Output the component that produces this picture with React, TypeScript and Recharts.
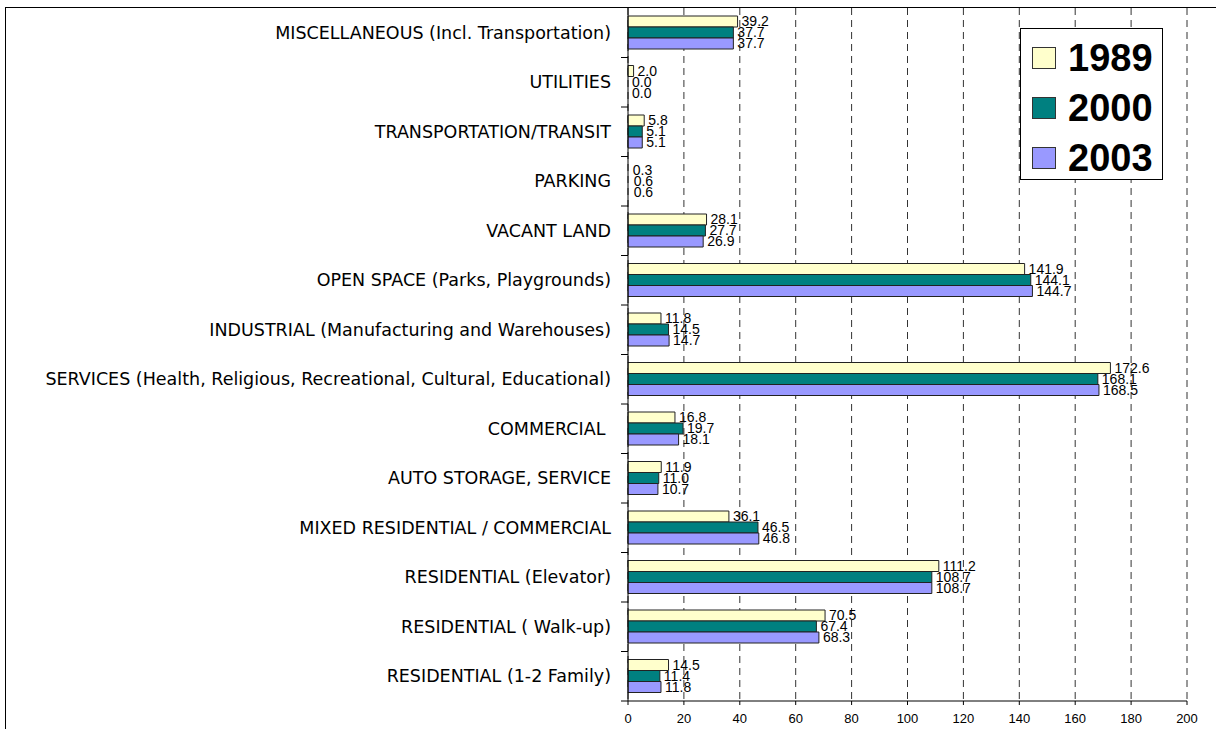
import React from "react";
import { BarChart, Bar, XAxis, YAxis, CartesianGrid, LabelList, Legend, Rectangle } from "recharts";

const categories = [
	"MISCELLANEOUS (Incl. Transportation)",
	"UTILITIES",
	"TRANSPORTATION/TRANSIT",
	"PARKING",
	"VACANT LAND",
	"OPEN SPACE (Parks, Playgrounds)",
	"INDUSTRIAL (Manufacturing and Warehouses)",
	"SERVICES (Health, Religious, Recreational, Cultural, Educational)",
	"COMMERCIAL ",
	"AUTO STORAGE, SERVICE",
	"MIXED RESIDENTIAL / COMMERCIAL",
	"RESIDENTIAL (Elevator)",
	"RESIDENTIAL ( Walk-up)",
	"RESIDENTIAL (1-2 Family)",
];

const values1989 = [39.2, 2.0, 5.8, 0.3, 28.1, 141.9, 11.8, 172.6, 16.8, 11.9, 36.1, 111.2, 70.5, 14.5];
const values2000 = [37.7, 0.0, 5.1, 0.6, 27.7, 144.1, 14.5, 168.1, 19.7, 11.0, 46.5, 108.7, 67.4, 11.4];
const values2003 = [37.7, 0.0, 5.1, 0.6, 26.9, 144.7, 14.7, 168.5, 18.1, 10.7, 46.8, 108.7, 68.3, 11.8];

const xTicks = [0, 20, 40, 60, 80, 100, 120, 140, 160, 180, 200];

const data = categories.map((name, i) => ({
	name,
	"1989": values1989[i],
	"2000": values2000[i],
	"2003": values2003[i],
}));

const W = 1216;
const H = 729;
const margin = { top: 8, right: 29, left: 0, bottom: 0 };
const xAxisHeight = 28;
const band = (H - margin.top - margin.bottom - xAxisHeight) / categories.length;

const CategoryTick = (props: any) => {
	const { x, y, payload } = props;
	const axisX = x + 17;
	return (
		<g>
			<line x1={axisX - 7} x2={axisX} y1={y + band / 2} y2={y + band / 2} stroke="#000" />
			<text
				x={x}
				y={y}
				dy={6}
				textAnchor="end"
				fontFamily="DejaVu Sans"
				fontSize={17.5}
				fill="#000"
				style={{ whiteSpace: "pre" }}
			>
				{payload.value}
			</text>
		</g>
	);
};

// very thin bars are not visible in the original
const BarShape = (props: any) => {
	if (!props.width || props.width < 2) return null;
	return <Rectangle {...props} />;
};

const LegendBox = (props: any) => {
	const items = props.payload || [];
	return (
		<div
			style={{
				width: 143,
				height: 152,
				boxSizing: "border-box",
				border: "1px solid #000",
				background: "#fff",
				paddingTop: 4,
			}}
		>
			{items.map((it: any) => (
				<div key={it.value} style={{ display: "flex", alignItems: "center", height: 50 }}>
					<div
						style={{
							width: 24,
							height: 22,
							marginLeft: 11,
							marginRight: 12,
							boxSizing: "border-box",
							border: "1px solid #333",
							background: it.color,
						}}
					/>
					<span
						style={{
							fontFamily: "Liberation Sans",
							fontWeight: "bold",
							fontSize: 38,
							color: "#000",
							lineHeight: 1,
						}}
					>
						{it.value}
					</span>
				</div>
			))}
		</div>
	);
};

const labelStyle = { fontFamily: "Liberation Sans", fontSize: 14, fill: "#000" };
const fmt = (v: any) => Number(v).toFixed(1);
const minSize = (v: any) => (Number(v) === 0 ? 0.01 : 0);

export default function App() {
	return (
		<div style={{ position: "absolute", left: 0, top: 0, width: W, height: H, background: "#fff" }}>
			<div
				style={{
					position: "absolute",
					left: 5,
					top: 7,
					right: 0,
					bottom: 0,
					borderLeft: "1px solid #000",
					borderTop: "1px solid #000",
				}}
			/>
			<div style={{ position: "absolute", left: 0, top: 0 }}>
				<BarChart
					width={W}
					height={H}
					data={data}
					layout="vertical"
					margin={margin}
					barSize={11}
					barGap={0}
				>
					<CartesianGrid horizontal={false} strokeDasharray="7 5" stroke="#333" />
					<XAxis
						type="number"
						domain={[0, 200]}
						ticks={xTicks}
						interval={0}
						height={xAxisHeight}
						tickSize={4}
						tickMargin={9}
						tick={{ fontFamily: "Liberation Sans", fontSize: 13, fill: "#000" }}
						axisLine={{ stroke: "#000" }}
						tickLine={{ stroke: "#000" }}
					/>
					<YAxis
						type="category"
						dataKey="name"
						width={628}
						interval={0}
						tickLine={false}
						tickSize={7}
						tickMargin={10}
						tick={<CategoryTick />}
						axisLine={{ stroke: "#000" }}
					/>
					<Legend
						layout="vertical"
						align="center"
						verticalAlign="middle"
						content={<LegendBox />}
						wrapperStyle={{ left: 1020, top: 28, width: 143, height: 152 }}
					/>
					<Bar dataKey="1989" fill="#FFFFCC" stroke="#222" minPointSize={minSize} shape={<BarShape />} isAnimationActive={false}>
						<LabelList dataKey="1989" position="right" offset={4} formatter={fmt} style={labelStyle} />
					</Bar>
					<Bar dataKey="2000" fill="#008080" stroke="#222" minPointSize={minSize} shape={<BarShape />} isAnimationActive={false}>
						<LabelList dataKey="2000" position="right" offset={4} formatter={fmt} style={labelStyle} />
					</Bar>
					<Bar dataKey="2003" fill="#9999FF" stroke="#222" minPointSize={minSize} shape={<BarShape />} isAnimationActive={false}>
						<LabelList dataKey="2003" position="right" offset={4} formatter={fmt} style={labelStyle} />
					</Bar>
				</BarChart>
			</div>
		</div>
	);
}
